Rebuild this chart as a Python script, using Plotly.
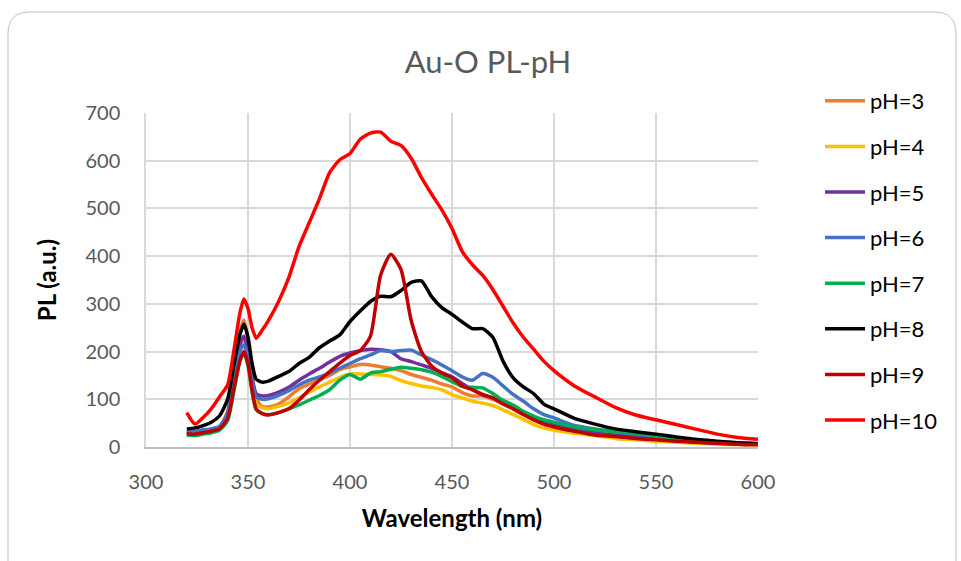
import plotly.graph_objects as go

wavelength = [320, 324, 328, 332, 336, 340, 343, 346, 348, 350, 352, 354, 357, 360,
              365, 370, 375, 380, 385, 390, 395, 400, 405, 410, 415, 420, 425, 430,
              435, 440, 445, 450, 455, 460, 465, 470, 475, 480, 485, 490, 495, 500,
              510, 520, 530, 540, 550, 560, 570, 580, 590, 600]

ph3 = [30, 30, 33, 36, 42, 75, 160, 240, 266, 225, 150, 100, 85, 84,
       90, 105, 122, 132, 141, 150, 162, 168, 173, 172, 168, 165, 160, 152,
       146, 140, 132, 126, 114, 107, 107, 100, 92, 80, 68, 58, 50, 44,
       35, 28, 23, 20, 16, 13, 10, 8, 6, 5]
ph4 = [30, 29, 31, 34, 40, 65, 140, 205, 220, 190, 130, 90, 82, 80,
       85, 92, 103, 115, 126, 136, 146, 153, 153, 152, 151, 148, 139, 133,
       128, 125, 120, 110, 103, 96, 92, 87, 78, 68, 58, 47, 40, 35,
       29, 24, 18, 15, 12, 10, 8, 6, 5, 4]
ph5 = [32, 31, 34, 37, 42, 70, 150, 215, 232, 200, 145, 112, 107, 108,
       115, 125, 140, 153, 165, 178, 190, 197, 202, 205, 204, 200, 185, 179,
       172, 165, 156, 147, 133, 120, 110, 103, 92, 82, 70, 60, 52, 46,
       37, 30, 25, 21, 17, 13, 10, 8, 6, 5]
ph6 = [32, 33, 36, 38, 43, 70, 140, 200, 214, 190, 140, 105, 100, 101,
       108, 118, 130, 140, 147, 155, 165, 175, 185, 193, 202, 200, 202, 203,
       193, 183, 172, 160, 147, 140, 154, 146, 128, 110, 96, 80, 68, 61,
       45, 38, 32, 27, 22, 17, 13, 10, 8, 6]
ph7 = [25, 24, 27, 30, 35, 55, 115, 180, 196, 170, 115, 78, 70, 68,
       72, 80, 88, 98, 108, 120, 140, 152, 142, 155, 158, 163, 167, 165,
       162, 157, 148, 137, 127, 125, 124, 112, 98, 88, 75, 65, 57, 52,
       42, 36, 32, 29, 24, 18, 14, 11, 9, 7]
ph8 = [38, 40, 45, 52, 65, 100, 170, 235, 258, 230, 175, 142, 136, 138,
       148, 158, 175, 188, 208, 222, 235, 263, 285, 305, 316, 315, 328, 345,
       348, 315, 292, 278, 262, 248, 248, 230, 180, 145, 126, 112, 90, 80,
       60, 48, 38, 32, 27, 21, 16, 12, 9, 7]
ph9 = [28, 27, 30, 33, 38, 60, 120, 180, 200, 175, 120, 80, 70, 67,
       72, 80, 98, 120, 140, 158, 176, 192, 202, 232, 360, 404, 372, 265,
       200, 170, 155, 145, 128, 120, 110, 103, 90, 80, 68, 57, 48, 42,
       33, 25, 22, 18, 15, 12, 10, 8, 6, 5]
ph10 = [72, 48, 62, 80, 105, 130, 200, 280, 310, 290, 250, 228, 245, 265,
        305, 355, 420, 470, 520, 575, 602, 615, 645, 658, 660, 641, 632, 605,
        565, 530, 497, 458, 410, 382, 360, 330, 295, 260, 230, 205, 180, 160,
        128, 105, 83, 67, 57, 47, 37, 27, 20, 16]

series_names = ["pH=3", "pH=4", "pH=5", "pH=6", "pH=7", "pH=8", "pH=9", "pH=10"]
series_values = [ph3, ph4, ph5, ph6, ph7, ph8, ph9, ph10]
series_colors = ["#ED7D31", "#FFC000", "#7030A0", "#4472C4", "#00B050",
                 "#000000", "#C00000", "#FF0000"]

x_ticks = [300, 350, 400, 450, 500, 550, 600]
y_ticks = [0, 100, 200, 300, 400, 500, 600, 700]

FONT = "Lato, 'Open Sans', sans-serif"
W, H = 961, 561
L, R, T, B = 146, 203, 113, 114

fig = go.Figure()
for i, (name, vals, col) in enumerate(zip(series_names, series_values, series_colors)):
    fig.add_trace(go.Scatter(
        x=wavelength, y=vals, name=name, mode="lines",
        line=dict(color=col, width=3.5, shape="spline", smoothing=0.6),
        legendgroup=f"g{i}",
    ))

pw, ph = W - L - R, H - T - B


def px(xp):
    return (xp - L) / pw


def py(yp):
    return (H - B - yp) / ph


# rounded chart-area border
x0, x1, y0, y1, r = 8, 956, 12, 580, 22
path = (f"M {px(x0)},{py(y1)} L {px(x0)},{py(y0 + r)} "
        f"Q {px(x0)},{py(y0)} {px(x0 + r)},{py(y0)} "
        f"L {px(x1 - r)},{py(y0)} "
        f"Q {px(x1)},{py(y0)} {px(x1)},{py(y0 + r)} "
        f"L {px(x1)},{py(y1)}")

fig.update_layout(
    width=W, height=H,
    margin=dict(l=L, r=R, t=T, b=B),
    paper_bgcolor="white", plot_bgcolor="white",
    font=dict(family=FONT, color="#595959", size=20),
    title=dict(text="Au-O PL-pH", x=(488 / W), xanchor="center",
               y=1 - 62 / H, yanchor="middle",
               font=dict(size=31, color="#595959", family=FONT)),
    showlegend=True,
    legend=dict(x=px(820), y=py(80), xanchor="left", yanchor="top",
                font=dict(size=22, color="#000000", family=FONT),
                tracegroupgap=14, itemwidth=40, bgcolor="rgba(0,0,0,0)",
                maxheight=540),
    shapes=[dict(type="path", xref="paper", yref="paper", path=path,
                 line=dict(color="#BFBFBF", width=1), layer="below")],
)
fig.update_xaxes(range=[300, 600], tickvals=x_ticks, ticks="outside",
                 ticklen=16, tickcolor="rgba(0,0,0,0)", showgrid=True,
                 gridcolor="#D9D9D9", gridwidth=1.5, showline=True,
                 linecolor="#BFBFBF", linewidth=1.5, zeroline=False,
                 tickfont=dict(size=20, color="#595959"),
                 title=dict(text="<b>Wavelength (nm)</b>", standoff=18,
                            font=dict(size=24, color="#000000")))
fig.update_yaxes(range=[0, 700], tickvals=y_ticks, ticks="outside",
                 ticklen=20, tickcolor="rgba(0,0,0,0)", showgrid=True,
                 gridcolor="#D9D9D9", gridwidth=1.5, showline=True,
                 linecolor="#D9D9D9", linewidth=1.5, zeroline=False,
                 tickfont=dict(size=20, color="#595959"),
                 title=dict(text="<b>PL (a.u.)</b>", standoff=22,
                            font=dict(size=24, color="#000000")))

fig.write_html("out.html")
